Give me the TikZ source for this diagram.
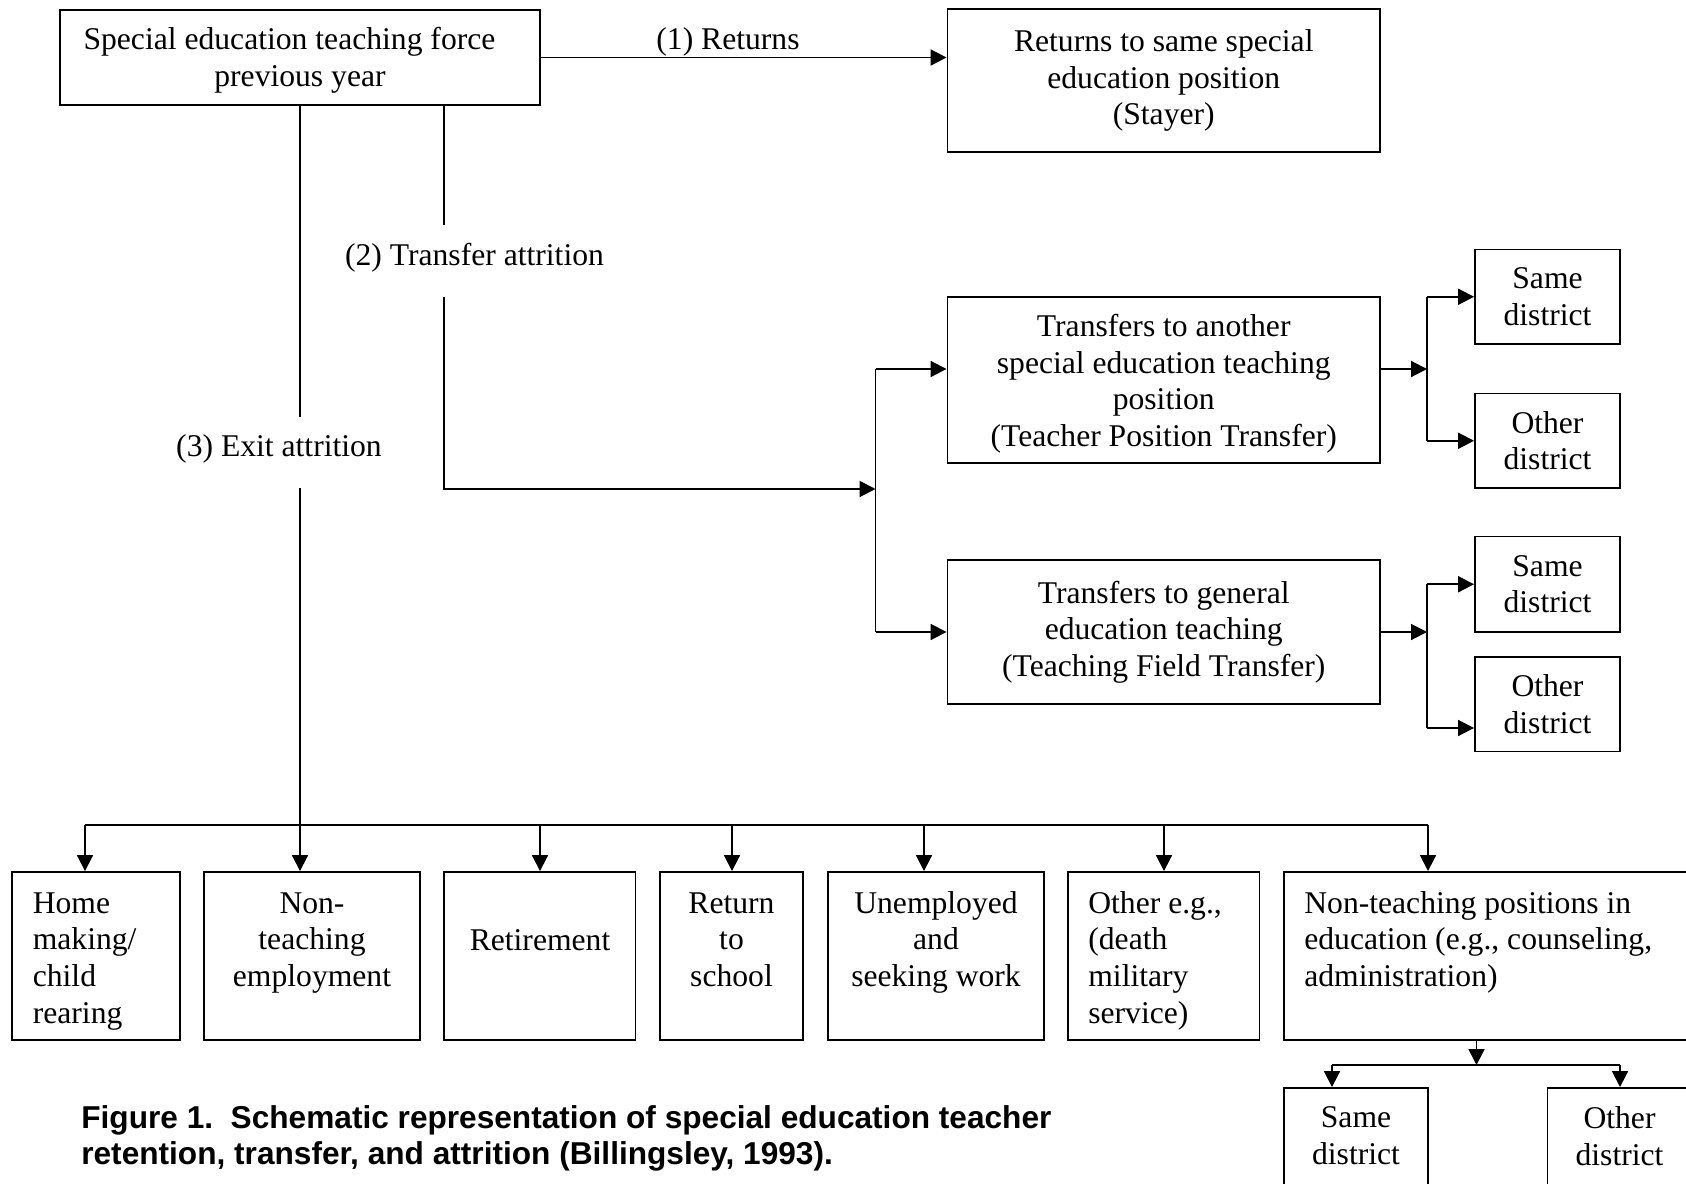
\documentclass[tikz,border=0pt]{standalone}
\usepackage{fontspec}
\setmainfont{Liberation Serif}
\setsansfont{Liberation Sans}
\usetikzlibrary{arrows.meta}

% box given by its corners (x1,y1) (x2,y2) in pixel units
\newcommand\placebox[6]{\node[box,#6,minimum width={(#4-#2)*0.02cm},minimum height={(#5-#3)*0.02cm}] (#1) at ({(#2+#4)/2},{(#3+#5)/2})}

\begin{document}
\begin{tikzpicture}[x=0.02cm, y=-0.02cm,
  txt/.style={font=\fontsize{18}{20.9}\selectfont, inner sep=0pt},
  box/.style={txt, draw, line width=1.1pt, align=center},
  conn/.style={line width=1.1pt},
  arr/.style={conn, -{Triangle[length=9pt, width=9pt]}},
]
\useasboundingbox (0,0) rectangle (1686,1183);
\clip (0,0) rectangle (1686,1183);

% ---- upper part
\placebox{top}{60}{10}{540}{105}{} {\rule{0pt}{16pt}Special education teaching force\hspace*{12pt}\\previous year};
\placebox{stayer}{947.5}{9}{1380}{152}{} {Returns to same special\\education position\\(Stayer)};
\placebox{tpt}{947.5}{297}{1380}{463}{} {\rule{0pt}{17pt}Transfers to another\\special education teaching\\position\\(Teacher Position Transfer)};
\placebox{tft}{947.5}{560}{1380}{704}{} {Transfers to general\\education teaching\\(Teaching Field Transfer)};
\placebox{sd1}{1475}{249.5}{1620}{344}{} {Same\\district};
\placebox{od1}{1475}{393.5}{1620}{488}{} {Other\\district};
\placebox{sd2}{1475}{536.5}{1620}{632}{} {Same\\district};
\placebox{od2}{1475}{657}{1620}{751.5}{} {Other\\district};

% (1) returns
\draw[arr] (top.east) -- (top.east -| stayer.west);
\node[txt] (retlbl) at (728,42) {(1) Returns};

% (2) transfer attrition
\coordinate (t2end) at (444,225);
\coordinate (t2resume) at (444,297);
\coordinate (t2corner) at (444,489);
\coordinate (split) at (875.5,489);
\coordinate (splittop) at (875.5,369);
\draw[conn] (top.south -| t2end) -- (t2end);
\node[txt] (xferlbl) at (474.5,258) {(2) Transfer attrition};
\draw[arr] (t2resume) -- (t2corner) -- (split);
\draw[conn] (splittop) -- (split |- tft.west);
\draw[arr] (splittop) -- (splittop -| tpt.west);
\draw[arr] (split |- tft.west) -- (tft.west);

% district branches
\coordinate (j1) at (1427,369);
\draw[arr] (tpt.east |- j1) -- (j1);
\draw[conn] (j1 |- sd1.west) -- (j1 |- od1.west);
\draw[arr] (j1 |- sd1.west) -- (sd1.west);
\draw[arr] (j1 |- od1.west) -- (od1.west);

\coordinate (j2) at (1427,632);
\coordinate (od2in) at (1427,728);
\draw[arr] (tft.east) -- (j2);
\draw[conn] (j2 |- sd2.west) -- (od2in);
\draw[arr] (j2 |- sd2.west) -- (sd2.west);
\draw[arr] (od2in) -- (od2in -| od2.west);

% ---- exit attrition row
\placebox{home}{12}{872}{180}{1040}{} {};
\placebox{nte}{204}{872}{420}{1040}{} {};
\placebox{ret}{444}{872}{635.5}{1040}{} {};
\placebox{rts}{660}{872}{803}{1040}{} {};
\placebox{unemp}{828}{872}{1044}{1040}{} {};
\placebox{oth}{1068}{872}{1259.5}{1040}{} {};
\placebox{ntp}{1284}{872}{1720}{1040}{} {};

\node[txt, anchor=north west, align=left] (home-t) at (32.5,887) {\strut Home\\making/\\child\\rearing};
\node[txt, anchor=north, align=center] (nte-t) at (312,887) {\strut Non-\\teaching\\employment};
\node[txt, anchor=north, align=center] (ret-t) at (540,924) {\strut Retirement};
\node[txt, anchor=north, align=center] (rts-t) at (731.5,887) {\strut Return\\to\\school};
\node[txt, anchor=north, align=center] (unemp-t) at (936,887) {\strut Unemployed\\and\\seeking work};
\node[txt, anchor=north west, align=left] (oth-t) at (1088,887) {\strut Other e.g.,\\(death\\military\\service)};
\node[txt, anchor=north west, align=left] (ntp-t) at (1304,887) {\strut Non-teaching positions in\\education (e.g., counseling,\\administration)};

% (3) exit attrition trunk and bus
\coordinate (t1end) at (300,417);
\coordinate (t1resume) at (300,488);
\draw[conn] (top.south) -- (t1end);
\node[txt] (exitlbl) at (279,449) {(3) Exit attrition};

\coordinate (bus-home) at (85,825);
\coordinate (bus-ret) at (540,825);
\coordinate (bus-rts) at (732,825);
\coordinate (bus-unemp) at (924,825);
\coordinate (bus-oth) at (1164,825);
\coordinate (bus-ntp) at (1428,825);
\draw[conn] (bus-home) -- (bus-ntp);
\draw[arr] (t1resume) -- (t1resume |- nte.north);
\foreach \b in {home,ret,rts,unemp,oth,ntp}
  \draw[arr] (bus-\b) -- (bus-\b |- \b.north);

% non-teaching positions: district split
\placebox{sd3}{1284}{1088}{1428}{1200}{} {};
\placebox{od3}{1547.5}{1088}{1692}{1200}{} {};
\node[txt, align=center] (sd3-t) at (1356,1136) {Same\\district};
\node[txt, align=center] (od3-t) at (1619.5,1136) {Other\\district};

\coordinate (sub) at (1476.5,1065);
\coordinate (sub-l) at (1332,1065);
\coordinate (sub-r) at (1620,1065);
\draw[arr] (ntp.south -| sub) -- (sub);
\draw[conn] (sub-l) -- (sub-r);
\draw[arr] (sub-l) -- (sub-l |- sd3.north);
\draw[arr] (sub-r) -- (sub-r |- od3.north);

% caption
\node[anchor=north west, align=left, inner sep=0pt,
      font=\sffamily\bfseries\fontsize{18}{20.8}\selectfont] (caption) at (81,1102.5)
  {\strut Figure 1.\ \ Schematic representation of special education teacher\\retention, transfer, and attrition (Billingsley, 1993).};
\end{tikzpicture}
\end{document}
